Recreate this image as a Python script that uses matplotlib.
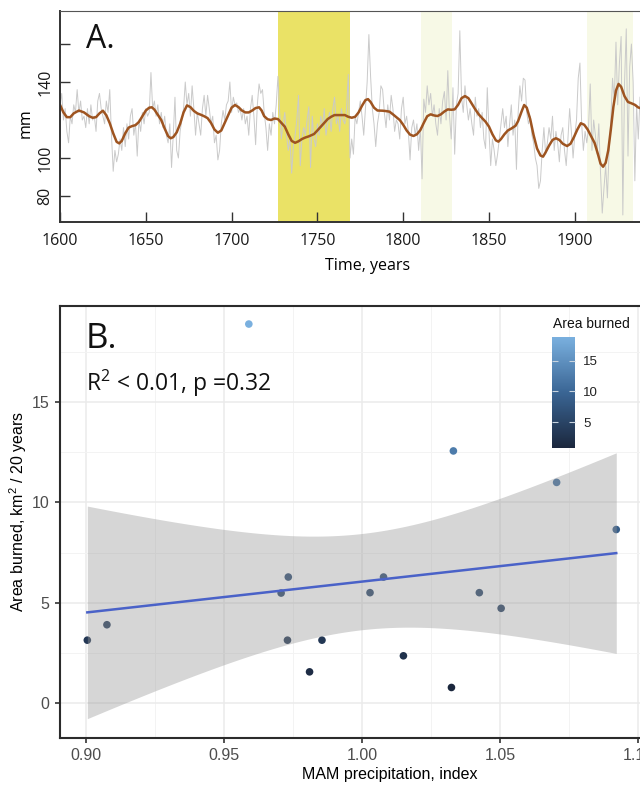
import numpy as np
import matplotlib.pyplot as plt
from matplotlib.colors import LinearSegmentedColormap

# ---- Panel A: reconstructed precipitation (mm) ----
years = np.arange(1600, 1939)
precip_mm = [
    128, 134, 120, 126, 114, 108, 122, 118, 128, 124,   # 1600s
    136, 124, 130, 120, 122, 116, 126, 118, 128, 120,   # 1610s
    122, 114, 130, 134, 126, 122, 118, 130, 124, 136,   # 1620s
    112, 93, 104, 98, 102, 110, 104, 116, 106, 118,     # 1630s
    110, 122, 126, 112, 118, 101, 120, 114, 124, 118,   # 1640s
    126, 122, 124, 145, 126, 130, 122, 128, 118, 124,   # 1650s
    116, 122, 112, 108, 118, 95, 112, 132, 104, 100,    # 1660s
    114, 120, 126, 140, 128, 134, 122, 138, 126, 112,   # 1670s
    124, 118, 112, 126, 133, 122, 133, 126, 118, 122,   # 1680s
    108, 112, 99, 104, 118, 125, 120, 128, 130, 140,    # 1690s
    124, 132, 128, 129, 124, 126, 120, 126, 118, 122,   # 1700s
    112, 126, 133, 122, 107, 128, 139, 134, 136, 124,   # 1710s
    116, 104, 118, 112, 124, 118, 128, 143, 124, 110,   # 1720s
    118, 124, 112, 104, 110, 92, 106, 112, 120, 133,    # 1730s
    96, 110, 116, 112, 120, 127, 95, 122, 110, 106,     # 1740s
    118, 112, 122, 116, 126, 112, 118, 124, 114, 126,   # 1750s
    132, 118, 122, 114, 126, 120, 118, 126, 144, 100,   # 1760s
    110, 102, 122, 118, 124, 130, 122, 112, 126, 140,   # 1770s
    165, 143, 126, 118, 106, 118, 124, 138, 136, 124,   # 1780s
    116, 128, 120, 133, 126, 114, 120, 118, 110, 126,   # 1790s
    132, 118, 122, 114, 99, 116, 120, 112, 118, 104,    # 1800s
    116, 89, 131, 124, 138, 128, 134, 122, 128, 118,    # 1810s
    112, 126, 118, 130, 135, 120, 146, 122, 110, 137,   # 1820s
    102, 128, 134, 167, 132, 124, 138, 128, 120, 126,   # 1830s
    118, 112, 132, 122, 126, 116, 124, 110, 105, 137,   # 1840s
    114, 96, 110, 104, 96, 102, 110, 118, 126, 116,     # 1850s
    122, 106, 118, 128, 112, 120, 94, 124, 138, 130,    # 1860s
    142, 141, 124, 118, 122, 112, 108, 100, 96, 84,     # 1870s
    88, 104, 116, 102, 108, 116, 110, 122, 104, 114,    # 1880s
    108, 98, 112, 116, 104, 96, 110, 126, 114, 100,     # 1890s
    112, 120, 142, 150, 118, 104, 114, 108, 116, 139,   # 1900s
    104, 120, 112, 102, 118, 92, 71, 84, 96, 79,        # 1910s
    104, 120, 142, 130, 161, 128, 150, 164, 70, 140,    # 1920s
    168, 101, 148, 160, 140, 88, 128, 110, 132,         # 1930s
]

# smoothed curve
smooth_years = [
    1600, 1602, 1604, 1606, 1608, 1611, 1614, 1617, 1619, 1621,
    1623, 1625, 1627, 1629, 1631, 1633, 1634.5, 1636, 1638, 1640,
    1642, 1644, 1646, 1648, 1650, 1652, 1653.5, 1655, 1657, 1659,
    1661, 1663, 1664.5, 1666, 1668, 1670, 1672, 1674, 1676, 1678,
    1680, 1682, 1684, 1686, 1688, 1690, 1692, 1694, 1696, 1698,
    1700, 1702, 1704, 1706, 1708, 1710, 1712, 1714, 1716, 1717.5,
    1719, 1721, 1723, 1725, 1727, 1729, 1731, 1733, 1735, 1737,
    1739, 1741, 1743, 1745, 1748, 1750, 1752, 1754, 1756, 1758,
    1760, 1763, 1766, 1768, 1770, 1772, 1774, 1776, 1778, 1779.5,
    1781, 1783, 1785, 1788, 1790, 1792, 1794, 1796, 1798, 1800,
    1802, 1804, 1806, 1808, 1810, 1812, 1814, 1816, 1818, 1820,
    1822, 1824, 1826, 1828, 1830, 1832, 1834, 1836, 1838, 1840,
    1842, 1844, 1846, 1848, 1850, 1852, 1854, 1855.5, 1857, 1859,
    1861, 1863, 1865.5, 1867, 1869, 1870.5, 1872, 1874, 1876, 1878,
    1880, 1881.5, 1883, 1885, 1887, 1889, 1891, 1893, 1895.5, 1897.5,
    1899.5, 1901.5, 1903.5, 1905.5, 1907.5, 1909.5, 1911.5, 1913.5, 1915, 1916.5,
    1918, 1919.5, 1921, 1922.5, 1924, 1925.5, 1927, 1929, 1931, 1933,
    1935, 1937, 1938.5,
]
smooth_mm = [
    128, 124, 121.5, 121.5, 123.5, 125, 124, 122, 121.2, 121.5,
    123.5, 124.9, 122.5, 118.3, 113, 108.5, 107.7, 109, 113, 116,
    116.8, 117.3, 119, 122, 125, 126.5, 126.7, 125.5, 122.8, 120,
    115.5, 111.5, 110.4, 111, 113.5, 118, 124, 127.7, 126.8, 124.8,
    123.5, 122.8, 122, 121, 118.5, 115, 113.3, 114.5, 118.5, 122.5,
    126.5, 127.9, 126.8, 125, 124, 124, 125, 126.3, 126.7, 125,
    122, 120.4, 120, 120.8, 120.5, 118.5, 116.5, 112.5, 109, 108,
    108.8, 110, 110.8, 111.4, 112.6, 114.5, 116.5, 118.5, 120.5, 121.7,
    122.6, 122.6, 122.6, 121.7, 121.2, 121.7, 124, 127.5, 130.5, 131,
    129.5, 126.5, 125, 124.9, 124.7, 124.4, 123, 121.5, 120, 117.5,
    114.5, 112.3, 111.6, 112.5, 114.7, 118.5, 122, 123, 122.4, 122.1,
    123, 124.5, 125.6, 125.4, 125.6, 128, 131.5, 132.6, 131.5, 128.5,
    125.6, 123, 121, 119.1, 116.5, 112.5, 109.3, 108.6, 110, 112.5,
    114.5, 115.5, 117, 119.5, 124.5, 127.9, 126.5, 120.5, 112, 105,
    101.3, 100.7, 103, 106.5, 109.5, 110.4, 109.5, 107.5, 106.3, 107.5,
    111, 115, 118.3, 117.5, 115, 111.5, 108, 102, 97, 95.4,
    97.5, 104, 115, 127, 135.5, 139, 137.5, 132.5, 129.5, 128.8,
    128, 126.6, 126.2,
]
dry_band = (1727, 1769)
light_bands = [(1810.5, 1828.5), (1907, 1934)]

# ---- Panel B: area burned vs MAM precipitation ----
mam_index = [0.9005, 0.9076, 0.9707, 0.9733, 0.9730, 0.9810, 0.9855, 0.9590, 1.0029,
             1.0078, 1.0150, 1.0324, 1.0331, 1.0425, 1.0504, 1.0705, 1.0921]
area_burned = [3.13, 3.90, 5.48, 6.28, 3.13, 1.55, 3.13, 18.9, 5.50,
               6.28, 2.35, 0.77, 12.57, 5.50, 4.72, 11.0, 8.65]
t_crit = 2.131  # t quantile 0.975, df = 15

head_font = 'Open Sans'
gg_font = 'Liberation Sans'

fig = plt.figure(figsize=(6.4, 7.86), dpi=100)

# ================= A =================
axA = fig.add_axes([60 / 640, 1 - 222 / 786, 580 / 640, 211 / 786])
axA.axvspan(*dry_band, color='#EAE266', lw=0, zorder=0)
for b in light_bands:
    axA.axvspan(*b, color='#F7F9E6', lw=0, zorder=0)
axA.plot(years, precip_mm, color='#CACACA', lw=0.7, zorder=1)
axA.plot(smooth_years, smooth_mm, color='#9E5420', lw=1.8, zorder=2,
         solid_joinstyle='round', solid_capstyle='round')
axA.set_xlim(1600, 1938)
axA.set_ylim(66.3, 177.4)
axA.set_xticks([1600, 1650, 1700, 1750, 1800, 1850, 1900])
axA.set_yticks([80, 100, 140, 160])
axA.set_yticklabels(['80', '100', '140', ''], rotation=90, va='center')
axA.tick_params(direction='in', length=7, width=1, color='#333333',
                labelsize=11.5, labelcolor='#1a1a1a')
axA.tick_params(axis='x', pad=8)
axA.tick_params(axis='y', pad=5)
for lab in axA.get_xticklabels() + axA.get_yticklabels():
    lab.set_family(head_font)
axA.spines['right'].set_visible(False)
axA.spines['top'].set_color('#555555')
axA.spines['top'].set_linewidth(0.8)
for s in ('left', 'bottom'):
    axA.spines[s].set_color('#333333')
    axA.spines[s].set_linewidth(1.4)
axA.set_xlabel('Time, years', family=head_font, fontsize=11.5)
axA.xaxis.set_label_coords(0.531, -0.171)
axA.set_ylabel('mm', family=head_font, fontsize=11.5)
axA.yaxis.set_label_coords(-0.045, 0.47)
axA.text(0.045, 0.825, 'A.', transform=axA.transAxes, family=head_font,
         fontsize=23, color='#111111')

# ================= B =================
axB = fig.add_axes([60 / 640, 1 - 738 / 786, 580 / 640, 432 / 786])
x = np.array(mam_index)
y = np.array(area_burned)
n = len(x)
slope, intercept = np.polyfit(x, y, 1)
resid = y - (slope * x + intercept)
s = np.sqrt(np.sum(resid ** 2) / (n - 2))
sxx = np.sum((x - x.mean()) ** 2)
xf = np.linspace(x.min(), x.max(), 100)
yf = slope * xf + intercept
half = t_crit * s * np.sqrt(1 / n + (xf - x.mean()) ** 2 / sxx)

# points first, confidence ribbon over them (ggplot layer order)
cmap = LinearSegmentedColormap.from_list('gg', ['#1B273D', '#3A6594', '#7AB0DF'])
sc = axB.scatter(x, y, c=y, cmap=cmap, vmin=y.min(), vmax=y.max(),
                 s=30, edgecolors='none', zorder=2)
axB.fill_between(xf, yf - half, yf + half, color='#999999', alpha=0.4, lw=0, zorder=3)
axB.plot(xf, yf, color='#4A62C8', lw=1.8, zorder=4)

axB.set_xlim(0.8906, 1.1007)
axB.set_ylim(-1.75, 19.8)
axB.set_xticks([0.90, 0.95, 1.00, 1.05, 1.10])
axB.set_xticklabels(['0.90', '0.95', '1.00', '1.05', '1.10'])
axB.set_yticks([0, 5, 10, 15])
axB.set_xticks([0.925, 0.975, 1.025, 1.075], minor=True)
axB.set_yticks([2.5, 7.5, 12.5, 17.5], minor=True)
axB.grid(which='major', color='#EBEBEB', lw=1.1, zorder=0)
axB.grid(which='minor', color='#F3F3F3', lw=0.7, zorder=0)
axB.set_axisbelow(True)
axB.tick_params(which='major', direction='out', length=3.5, width=1.2,
                color='#333333', labelsize=11.5, labelcolor='#4D4D4D', pad=4)
axB.tick_params(which='minor', length=0)
for lab in axB.get_xticklabels() + axB.get_yticklabels():
    lab.set_family(gg_font)
axB.spines['right'].set_visible(False)
for sp in ('left', 'bottom', 'top'):
    axB.spines[sp].set_color('#2b2b2b')
    axB.spines[sp].set_linewidth(1.5)
axB.set_xlabel('MAM precipitation, index', family=gg_font, fontsize=11.5)
axB.xaxis.set_label_coords(0.569, -0.067)
axB.set_ylabel(r'Area burned, km$^{\mathregular{2}}$ / 20 years', family=gg_font, fontsize=11.5)
axB.yaxis.set_label_coords(-0.053, 0.525)

axB.text(0.045, 0.903, 'B.', transform=axB.transAxes, family=head_font,
         fontsize=25, color='#111111')
axB.text(0.045, 0.803, r'R$^{\mathregular{2}}$ < 0.01, p =0.32', transform=axB.transAxes,
         family=head_font, fontsize=16.5, color='#111111')

# colour legend
cax = fig.add_axes([552 / 640, 1 - 448 / 786, 23 / 640, 111 / 786])
cb = fig.colorbar(sc, cax=cax)
cb.outline.set_visible(False)
cb.set_ticks([5, 10, 15])
cax.minorticks_off()
cax.tick_params(which='major', direction='in', length=4, width=0.8, color='#C8D4E0',
                left=True, right=True, labelleft=False, labelright=True,
                labelsize=9.5, labelcolor='#222222', pad=6)
for lab in cax.get_yticklabels():
    lab.set_family(gg_font)
fig.text(553 / 640, 1 - 328 / 786, 'Area burned', family=gg_font, fontsize=10,
         color='#111111')

fig.savefig('out.png', dpi=100)
